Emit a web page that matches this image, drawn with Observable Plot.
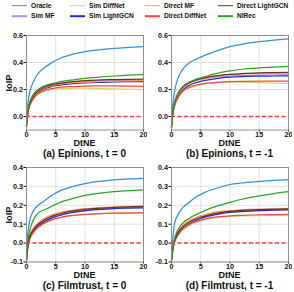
<!DOCTYPE html>
<html><head><meta charset="utf-8">
<script src="https://cdn.jsdelivr.net/npm/d3@7"></script>
<script src="https://cdn.jsdelivr.net/npm/@observablehq/plot@0.6"></script>
<style>
body{margin:0;background:#fff;font-family:"Liberation Sans",Arial,sans-serif;}
#root{position:relative;width:294px;height:292px;overflow:hidden;}
.lg{position:absolute;font-size:6.6px;font-weight:bold;white-space:nowrap;line-height:1;color:#111;transform:translateY(-50%);}
.sw{position:absolute;height:1.6px;width:15px;transform:translateY(-50%);}
.panel{position:absolute;}
.cap{position:absolute;font-size:10px;font-weight:bold;text-align:center;width:160px;white-space:nowrap;line-height:1;transform:translate(-50%,-50%);color:#111;}
.xl{position:absolute;font-size:9px;font-weight:bold;line-height:1;transform:translate(-50%,-50%);color:#111;}
.yl{position:absolute;font-size:9.2px;font-weight:bold;line-height:1;transform:translate(-50%,-50%) rotate(-90deg);color:#111;}
</style></head>
<body><div id="root"></div>
<script>
const methods = ["Oracle","Sim MF","Sim DiffNet","Sim LightGCN","Direct MF","Direct DiffNet","Direct LightGCN","NIRec"];
const colors = ["#3a8fd0","#b98be0","#d8d470","#1c2fd8","#ffa04a","#f04848","#6e3020","#2ca02c"];
const xs = [0, 0.25, 0.5, 1, 1.5, 2, 3, 4, 5, 6, 8, 10, 12, 15, 17.5, 20];
const xTicks = [0, 5, 10, 15, 20];
const yTicksEpinions = [0, 0.2, 0.4, 0.6];
const yTicksFilmtrust = [-0.1, 0, 0.1, 0.2, 0.3, 0.4];
const captions = ["(a) Epinions, t = 0", "(b) Epinions, t = -1", "(c) Filmtrust, t = 0", "(d) Filmtrust, t = -1"];

const epinionsT0 = [
  [-0.05, 0.10, 0.17, 0.24, 0.285, 0.32, 0.36, 0.39, 0.415, 0.435, 0.462, 0.48, 0.492, 0.505, 0.512, 0.518],
  [-0.07, 0.05, 0.10, 0.15, 0.18, 0.20, 0.222, 0.235, 0.243, 0.249, 0.256, 0.260, 0.263, 0.265, 0.266, 0.267],
  [-0.07, 0.03, 0.07, 0.115, 0.145, 0.165, 0.185, 0.197, 0.203, 0.207, 0.210, 0.210, 0.208, 0.205, 0.202, 0.199],
  [-0.07, 0.035, 0.08, 0.13, 0.16, 0.18, 0.205, 0.218, 0.228, 0.235, 0.243, 0.249, 0.253, 0.256, 0.258, 0.259],
  [-0.07, 0.04, 0.085, 0.135, 0.165, 0.185, 0.21, 0.225, 0.235, 0.242, 0.250, 0.255, 0.258, 0.262, 0.264, 0.265],
  [-0.07, 0.03, 0.075, 0.12, 0.15, 0.17, 0.192, 0.205, 0.212, 0.217, 0.222, 0.225, 0.226, 0.226, 0.225, 0.224],
  [-0.07, 0.04, 0.09, 0.14, 0.17, 0.19, 0.215, 0.23, 0.24, 0.248, 0.258, 0.265, 0.270, 0.273, 0.275, 0.276],
  [-0.07, 0.05, 0.10, 0.15, 0.18, 0.20, 0.225, 0.24, 0.25, 0.26, 0.272, 0.282, 0.29, 0.30, 0.306, 0.31]
];
const epinionsTm1 = [
  [-0.06, 0.10, 0.18, 0.27, 0.32, 0.355, 0.397, 0.42, 0.44, 0.458, 0.49, 0.517, 0.535, 0.554, 0.566, 0.576],
  [-0.08, 0.045, 0.10, 0.16, 0.195, 0.22, 0.248, 0.265, 0.275, 0.283, 0.294, 0.30, 0.304, 0.307, 0.309, 0.31],
  [-0.08, 0.025, 0.075, 0.13, 0.16, 0.185, 0.21, 0.225, 0.235, 0.242, 0.25, 0.254, 0.254, 0.251, 0.247, 0.243],
  [-0.08, 0.03, 0.085, 0.14, 0.175, 0.20, 0.23, 0.248, 0.26, 0.27, 0.283, 0.291, 0.296, 0.299, 0.30, 0.301],
  [-0.08, 0.035, 0.09, 0.15, 0.185, 0.21, 0.242, 0.262, 0.275, 0.285, 0.30, 0.31, 0.315, 0.319, 0.321, 0.322],
  [-0.08, 0.025, 0.075, 0.13, 0.165, 0.19, 0.215, 0.23, 0.24, 0.247, 0.254, 0.258, 0.26, 0.262, 0.262, 0.262],
  [-0.08, 0.04, 0.1, 0.16, 0.195, 0.22, 0.25, 0.268, 0.28, 0.29, 0.303, 0.312, 0.318, 0.323, 0.325, 0.327],
  [-0.08, 0.04, 0.1, 0.16, 0.2, 0.225, 0.255, 0.273, 0.287, 0.30, 0.322, 0.338, 0.35, 0.36, 0.366, 0.372]
];
const filmtrustT0 = [
  [-0.05, 0.06, 0.11, 0.16, 0.185, 0.20, 0.222, 0.245, 0.265, 0.28, 0.30, 0.315, 0.325, 0.335, 0.34, 0.343],
  [-0.09, -0.01, 0.025, 0.058, 0.08, 0.095, 0.118, 0.133, 0.145, 0.154, 0.166, 0.174, 0.180, 0.185, 0.188, 0.190],
  [-0.09, -0.02, 0.015, 0.045, 0.065, 0.08, 0.102, 0.116, 0.127, 0.135, 0.145, 0.150, 0.154, 0.158, 0.160, 0.162],
  [-0.09, -0.015, 0.02, 0.052, 0.074, 0.09, 0.112, 0.128, 0.14, 0.149, 0.162, 0.171, 0.177, 0.183, 0.185, 0.187],
  [-0.09, 0.0, 0.035, 0.07, 0.092, 0.108, 0.13, 0.145, 0.156, 0.164, 0.175, 0.182, 0.187, 0.191, 0.194, 0.196],
  [-0.09, -0.015, 0.02, 0.05, 0.07, 0.085, 0.105, 0.12, 0.13, 0.138, 0.147, 0.152, 0.155, 0.158, 0.159, 0.160],
  [-0.09, -0.005, 0.03, 0.063, 0.085, 0.10, 0.122, 0.138, 0.149, 0.158, 0.170, 0.178, 0.184, 0.189, 0.192, 0.194],
  [-0.08, 0.02, 0.06, 0.11, 0.14, 0.16, 0.175, 0.19, 0.205, 0.218, 0.237, 0.252, 0.262, 0.272, 0.278, 0.282]
];
const filmtrustTm1 = [
  [-0.08, 0.03, 0.10, 0.145, 0.17, 0.19, 0.215, 0.24, 0.258, 0.272, 0.293, 0.31, 0.318, 0.326, 0.332, 0.336],
  [-0.09, -0.025, 0.012, 0.048, 0.07, 0.086, 0.108, 0.124, 0.136, 0.145, 0.157, 0.165, 0.170, 0.175, 0.177, 0.179],
  [-0.09, -0.035, 0.0, 0.035, 0.055, 0.07, 0.092, 0.107, 0.118, 0.126, 0.136, 0.141, 0.144, 0.146, 0.147, 0.148],
  [-0.09, -0.03, 0.005, 0.04, 0.062, 0.078, 0.1, 0.117, 0.13, 0.14, 0.153, 0.162, 0.167, 0.172, 0.174, 0.176],
  [-0.09, -0.02, 0.02, 0.055, 0.078, 0.095, 0.118, 0.133, 0.145, 0.154, 0.166, 0.172, 0.176, 0.180, 0.182, 0.184],
  [-0.09, -0.03, 0.008, 0.042, 0.063, 0.078, 0.098, 0.112, 0.122, 0.13, 0.139, 0.144, 0.147, 0.15, 0.151, 0.152],
  [-0.09, -0.025, 0.015, 0.05, 0.072, 0.088, 0.11, 0.126, 0.138, 0.147, 0.16, 0.168, 0.173, 0.177, 0.179, 0.181],
  [-0.09, -0.02, 0.02, 0.065, 0.09, 0.108, 0.13, 0.148, 0.162, 0.176, 0.198, 0.216, 0.232, 0.25, 0.262, 0.272]
];

const root = document.getElementById("root");
function add(cls, text, left, top, extra) {
  const d = document.createElement("div");
  d.className = cls; if (text != null) d.textContent = text;
  d.style.left = left + "px"; d.style.top = top + "px";
  if (extra) Object.assign(d.style, extra);
  root.appendChild(d); return d;
}

// legend: 4 columns x 2 rows, column-major order
const colSw = [12, 70, 145, 218], colTx = [31, 89, 164, 237], rowY = [5.8, 16.2];
methods.forEach((m, i) => {
  const c = Math.floor(i / 2), r = i % 2;
  add("sw", null, colSw[c], rowY[r], {background: colors[i]});
  add("lg", m, colTx[c], rowY[r]);
});

function panel(data, ydom, yticks) {
  const rows = [];
  methods.forEach((m, i) => xs.forEach((x, j) => rows.push({m, x, y: data[i][j]})));
  return Plot.plot({
    width: 147, height: 120,
    marginLeft: 26, marginRight: 4, marginTop: 7, marginBottom: 18.5,
    style: {fontFamily: "Liberation Sans, Arial, sans-serif", fontSize: "7.2px", fontWeight: "bold", background: "transparent", color: "#111"},
    x: {domain: [0, 20], ticks: xTicks, tickSize: 2, tickPadding: -0.5, label: null},
    y: {domain: ydom, ticks: yticks, tickSize: 2.5, tickPadding: 1, tickFormat: d => d.toFixed(1), label: null},
    color: {domain: methods, range: colors},
    marks: [
      Plot.ruleX(xTicks, {stroke: "#dedede", strokeWidth: 0.9}),
      Plot.ruleY(yticks, {stroke: "#dedede", strokeWidth: 0.9}),
      Plot.line(rows, {x: "x", y: "y", z: "m", stroke: "m", strokeWidth: 1.25, curve: "monotone-x"}),
      Plot.ruleY([0], {stroke: "#ff3a3a", strokeWidth: 1.5, strokeDasharray: "4,2.5"}),
      Plot.frame({stroke: "#888", strokeWidth: 0.9})
    ]
  });
}

const specs = [
  {data: epinionsT0, dom: [-0.1, 0.6], ticks: yTicksEpinions, left: 0, top: 28},
  {data: epinionsTm1, dom: [-0.1, 0.6], ticks: yTicksEpinions, left: 145, top: 28},
  {data: filmtrustT0, dom: [-0.1, 0.4], ticks: yTicksFilmtrust, left: 0, top: 160},
  {data: filmtrustTm1, dom: [-0.1, 0.4], ticks: yTicksFilmtrust, left: 145, top: 160}
];
specs.forEach((s, k) => {
  const el = panel(s.data, s.dom, s.ticks);
  const wrap = document.createElement("div");
  wrap.className = "panel";
  wrap.style.left = s.left + "px"; wrap.style.top = s.top + "px";
  wrap.appendChild(el);
  root.appendChild(wrap);
  const cx = s.left + 84.5;
  add("xl", "DtNE", cx, s.top + 115);
  add("cap", captions[k], cx, s.top + 125.8);
  if (s.left === 0) add("yl", "IoIP", 9.5, s.top + 54.5);
});
</script>
</body></html>
